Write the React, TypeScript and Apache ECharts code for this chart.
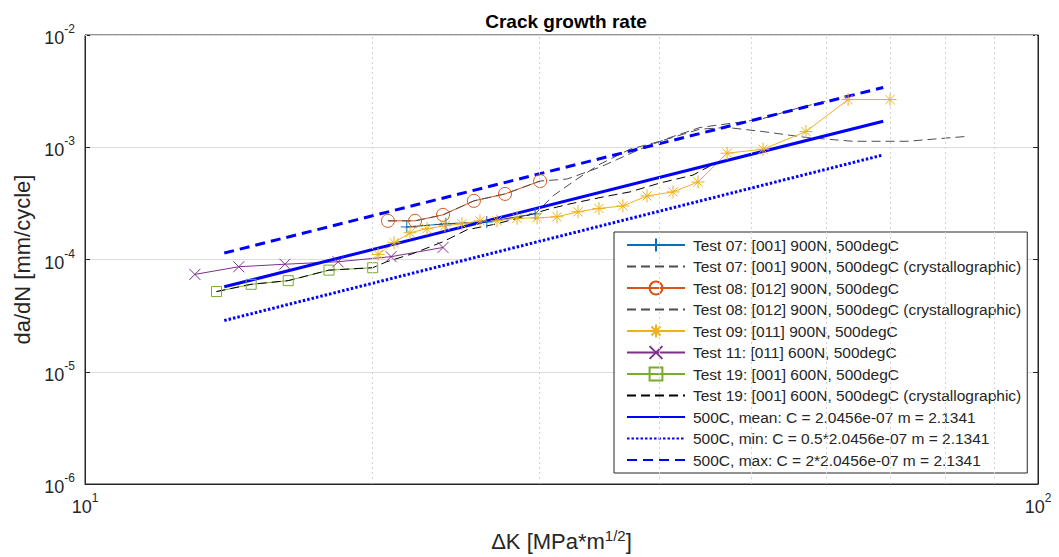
import React, { useEffect, useRef } from 'react';
import * as echarts from 'echarts';

// ---------- data ----------
const test07K = [21.76, 23.92, 26.4, 29.67];
const test07Rate = [1.95e-4, 2.08e-4, 2.16e-4, 2.55e-4];

const test07CrystK = [21.76, 23.92, 26.4, 29.67, 30.97, 32.83, 34.71, 37.31, 40.11, 44.19, 47.18, 51.09, 57.22, 63.96, 72.88, 84.23];
const test07CrystRate = [1.95e-4, 2.08e-4, 2.16e-4, 2.55e-4, 3.68e-4, 5.21e-4, 7.07e-4, 9.6e-4, 1.13e-3, 1.45e-3, 1.5e-3, 1.39e-3, 1.22e-3, 1.13e-3, 1.13e-3, 1.25e-3];

const test08K = [20.79, 22.2, 23.75, 25.59, 27.59, 30.03];
const test08Rate = [2.21e-4, 2.21e-4, 2.5e-4, 3.33e-4, 3.84e-4, 5.0e-4];

const test08CrystK = [20.79, 22.2, 23.75, 25.59, 27.59, 30.03, 32.05, 34.71, 38.22, 41.1, 44.19, 51.09, 56.27, 62.76];
const test08CrystRate = [2.21e-4, 2.21e-4, 2.5e-4, 3.33e-4, 3.84e-4, 5.0e-4, 5.21e-4, 6.65e-4, 9.6e-4, 1.22e-3, 1.5e-3, 1.77e-3, 2.26e-3, 2.82e-3];

const test09K = [20.3, 21.1, 21.93, 22.85, 23.86, 24.86, 25.97, 27.06, 28.4, 29.81, 31.28, 32.91, 34.62, 36.68, 38.88, 41.4, 43.98, 47.18, 51.46, 57.09, 63.2, 69.94];
const test09Rate = [1.11e-4, 1.41e-4, 1.73e-4, 1.88e-4, 2.0e-4, 2.08e-4, 2.21e-4, 2.21e-4, 2.33e-4, 2.35e-4, 2.4e-4, 2.66e-4, 2.85e-4, 3.0e-4, 3.68e-4, 4.0e-4, 4.9e-4, 8.85e-4, 9.6e-4, 1.38e-3, 2.66e-3, 2.66e-3];

const test11K = [13.04, 14.5, 16.21, 18.43, 20.95, 23.75];
const test11Rate = [7.37e-5, 8.62e-5, 9.08e-5, 9.55e-5, 1.06e-4, 1.28e-4];

const test19K = [13.74, 14.94, 16.34, 18.03, 20.04];
const test19Rate = [5.18e-5, 6.01e-5, 6.48e-5, 8.04e-5, 8.45e-5];

const test19CrystK = [13.74, 14.94, 16.34, 18.03, 20.04, 20.73, 22.09, 23.75, 25.17, 27.06, 28.81, 30.75, 32.28, 34.96, 37.31, 40.11, 43.45, 46.05];
const test19CrystRate = [5.18e-5, 6.01e-5, 6.48e-5, 8.04e-5, 8.45e-5, 9.55e-5, 1.13e-4, 1.44e-4, 1.84e-4, 2.08e-4, 2.4e-4, 2.83e-4, 3.13e-4, 3.61e-4, 4.0e-4, 4.8e-4, 5.65e-4, 7.36e-4];

const fitK = [14, 68.8];
const fitMeanRate = [5.71e-5, 1.707e-3];
const fitMinRate = [2.86e-5, 8.54e-4];
const fitMaxRate = [1.142e-4, 3.41e-3];

const minorGridK = [20, 30, 40, 50, 60, 70, 80, 90];
const minorGridRate = [
  2e-6, 3e-6, 4e-6, 5e-6, 6e-6, 7e-6, 8e-6, 9e-6,
  2e-5, 3e-5, 4e-5, 5e-5, 6e-5, 7e-5, 8e-5, 9e-5,
  2e-4, 3e-4, 4e-4, 5e-4, 6e-4, 7e-4, 8e-4, 9e-4,
  2e-3, 3e-3, 4e-3, 5e-3, 6e-3, 7e-3, 8e-3, 9e-3,
];

const seriesNames = [
  'Test 07: [001] 900N, 500degC',
  'Test 07: [001] 900N, 500degC (crystallographic)',
  'Test 08: [012] 900N, 500degC',
  'Test 08: [012] 900N, 500degC (crystallographic)',
  'Test 09: [011] 900N, 500degC',
  'Test 11: [011] 600N, 500degC',
  'Test 19: [001] 600N, 500degC',
  'Test 19: [001] 600N, 500degC (crystallographic)',
  '500C, mean: C = 2.0456e-07 m = 2.1341',
  '500C, min: C = 0.5*2.0456e-07 m = 2.1341',
  '500C, max: C = 2*2.0456e-07 m = 2.1341',
];

// ---------- styling ----------
const FONT = '"Liberation Sans", Arial, Helvetica, sans-serif';
const TXT = '#262626';
const PLUS = 'path://M5,0L5,10M0,5L10,5';
const CROSS = 'path://M0,0L10,10M10,0L0,10';
const STAR = 'path://M5,0L5,10M0,5L10,5M1.46,1.46L8.54,8.54M8.54,1.46L1.46,8.54';

const pairs = (k: number[], r: number[]) => k.map((v, i) => [v, r[i]]);

const expLabel = (v: number) => `{b|10}{s|${Math.round(Math.log10(v))}}`;

const tickRich = {
  b: { fontSize: 18, color: TXT, fontFamily: FONT, verticalAlign: 'bottom', lineHeight: 24 },
  s: { fontSize: 12, color: TXT, fontFamily: FONT, verticalAlign: 'top', lineHeight: 24 },
};

function markerSeries(name: string, k: number[], r: number[], color: string, symbol: string, size: number) {
  return {
    type: 'line',
    name,
    data: pairs(k, r),
    symbol,
    symbolSize: size,
    showSymbol: true,
    lineStyle: { color, width: 1 },
    itemStyle: { color: 'transparent', borderColor: color, borderWidth: 1 },
    emphasis: { disabled: true },
  };
}

function dashSeries(name: string, k: number[], r: number[], color: string) {
  return {
    type: 'line',
    name,
    data: pairs(k, r),
    symbol: 'none',
    lineStyle: { color, width: 1, type: [9, 5] },
    itemStyle: { color: 'transparent', borderWidth: 0 },
    emphasis: { disabled: true },
  };
}

function fitSeries(name: string, r: number[], type: any) {
  return {
    type: 'line',
    name,
    data: pairs(fitK, r),
    symbol: 'none',
    lineStyle: { color: '#0000ff', width: 3, type },
    itemStyle: { color: 'transparent', borderWidth: 0 },
    emphasis: { disabled: true },
    z: 3,
  };
}

const boxAxisY = (position: string, showLabel: boolean, split: boolean) => ({
  type: 'log',
  logBase: 10,
  min: 1e-6,
  max: 1e-2,
  position,
  axisLine: { show: true, lineStyle: { color: TXT, width: 1 } },
  axisTick: { show: true, inside: true, length: 5, lineStyle: { color: TXT } },
  axisLabel: { show: showLabel, formatter: expLabel, rich: tickRich, margin: 10, fontSize: 18 },
  splitLine: { show: split, lineStyle: { color: '#dcdcdc', width: 1 } },
});

export default function App() {
  const ref = useRef<HTMLDivElement>(null);

  useEffect(() => {
    if (!ref.current) return;
    const chart = echarts.init(ref.current, undefined, { renderer: 'svg' });
    const option: any = {
      animation: false,
      backgroundColor: '#ffffff',
      title: {
        text: 'Crack growth rate',
        left: 561,
        top: 7,
        textAlign: 'center',
        textStyle: { fontSize: 19, fontWeight: 'bold', color: '#000', fontFamily: FONT },
      },
      grid: {
        left: 85,
        top: 35,
        width: 953,
        height: 452,
        show: true,
        borderColor: TXT,
        borderWidth: 1,
        backgroundColor: 'transparent',
      },
      legend: {
        orient: 'vertical',
        left: 614,
        top: 232,
        itemWidth: 58,
        itemHeight: 16,
        itemGap: 5.5,
        backgroundColor: '#ffffff',
        borderColor: TXT,
        borderWidth: 1,
        borderRadius: 0,
        padding: [5, 6, 5, 12],
        selectedMode: false,
        textStyle: { fontSize: 15.5, lineHeight: 16, color: TXT, fontFamily: FONT, padding: [0, 0, 0, 3] },
        data: seriesNames,
      },
      xAxis: {
        type: 'log',
        logBase: 10,
        min: 10,
        max: 100,
        name: 'ΔK [MPa*m{s|1/2}]',
        nameLocation: 'middle',
        nameGap: 44,
        nameTextStyle: {
          fontSize: 22,
          color: TXT,
          fontFamily: FONT,
          rich: {
            s: { fontSize: 15, color: TXT, fontFamily: FONT, verticalAlign: 'top', lineHeight: 26 },
          },
        },
        axisLine: { show: true, lineStyle: { color: TXT, width: 1 } },
        axisTick: { show: true, inside: true, length: 5, lineStyle: { color: TXT } },
        axisLabel: { formatter: expLabel, rich: tickRich, margin: 8, fontSize: 18 },
        splitLine: { show: false },
      },
      yAxis: [
        {
          ...boxAxisY('left', true, true),
          name: 'da/dN [mm/cycle]',
          nameLocation: 'middle',
          nameGap: 52,
          nameTextStyle: { fontSize: 22, color: TXT, fontFamily: FONT },
        },
        boxAxisY('right', false, false),
      ],
      series: [
        {
          type: 'line',
          name: '__minorgrid',
          data: [],
          silent: true,
          z: 0,
          markLine: {
            silent: true,
            symbol: ['none', 'none'],
            label: { show: false },
            lineStyle: { color: '#d2d2d2', type: [2, 3], width: 1 },
            emphasis: { disabled: true },
            data: [
              ...minorGridK.map((v) => ({ xAxis: v })),
              ...minorGridRate.map((v) => ({ yAxis: v })),
            ],
          },
        },
        markerSeries(seriesNames[0], test07K, test07Rate, '#0072BD', PLUS, 12),
        dashSeries(seriesNames[1], test07CrystK, test07CrystRate, '#4d4d4d'),
        markerSeries(seriesNames[2], test08K, test08Rate, '#D95319', 'circle', 13),
        dashSeries(seriesNames[3], test08CrystK, test08CrystRate, '#4d4d4d'),
        markerSeries(seriesNames[4], test09K, test09Rate, '#EDB120', STAR, 13),
        markerSeries(seriesNames[5], test11K, test11Rate, '#7E2F8E', CROSS, 11),
        markerSeries(seriesNames[6], test19K, test19Rate, '#77AC30', 'rect', 10),
        dashSeries(seriesNames[7], test19CrystK, test19CrystRate, '#000000'),
        fitSeries(seriesNames[8], fitMeanRate, 'solid'),
        fitSeries(seriesNames[9], fitMinRate, [2.5, 2]),
        fitSeries(seriesNames[10], fitMaxRate, [10, 6]),
      ],
    };
    chart.setOption(option);
    return () => chart.dispose();
  }, []);

  return (
    <div
      ref={ref}
      style={{ position: 'absolute', left: 0, top: 0, width: 1059, height: 557, background: '#fff' }}
    />
  );
}
